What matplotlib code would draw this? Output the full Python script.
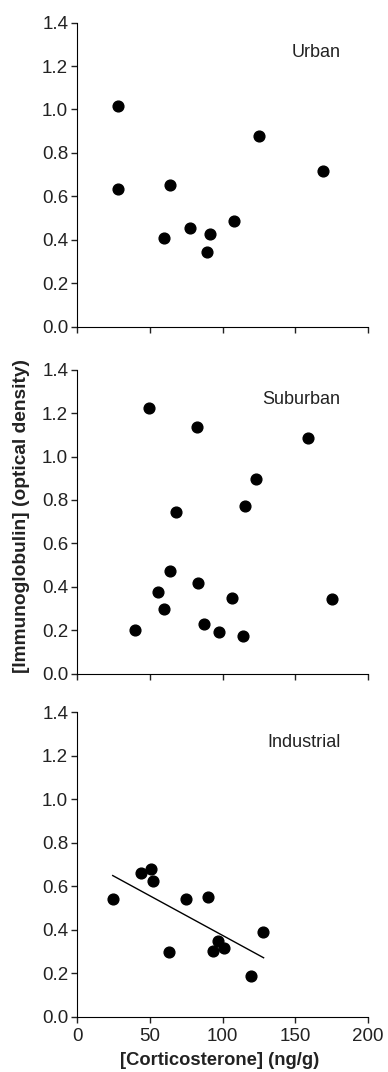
import numpy as np
import matplotlib.pyplot as plt

plt.rcParams["font.family"] = ["Liberation Sans", "DejaVu Sans"]

urban_x = [27.7, 28.2, 63.9, 59.6, 77.4, 91.2, 89.3, 107.7, 124.6, 168.6]
urban_y = [1.016, 0.636, 0.652, 0.408, 0.453, 0.428, 0.347, 0.485, 0.877, 0.715]

suburban_x = [49.5, 82.2, 158.8, 122.8, 115.5, 67.6, 63.9, 83.2, 55.7, 59.8,
              39.9, 106.5, 87.3, 97.4, 113.9, 175.3]
suburban_y = [1.224, 1.136, 1.086, 0.896, 0.772, 0.744, 0.475, 0.420, 0.375, 0.299,
              0.204, 0.351, 0.231, 0.195, 0.173, 0.343]

industrial_x = [24.4, 43.8, 50.5, 52.3, 75.1, 90.2, 62.8, 96.6, 93.4, 101.1, 119.4, 127.6]
industrial_y = [0.543, 0.659, 0.678, 0.623, 0.543, 0.551, 0.296, 0.348, 0.304, 0.314, 0.187, 0.388]

# regression line endpoints (industrial)
fit_x = [24.4, 128.1]
fit_y = [0.649, 0.271]

panels = [("Urban", urban_x, urban_y),
          ("Suburban", suburban_x, suburban_y),
          ("Industrial", industrial_x, industrial_y)]

fig = plt.figure(figsize=(3.88, 10.72), dpi=100)
bottoms = [0.695, 0.3713, 0.0516]

for i, (name, xs, ys) in enumerate(panels):
    ax = fig.add_axes([0.199, bottoms[i], 0.75, 0.284])
    ax.scatter(xs, ys, s=60, color="black", zorder=3)
    if name == "Industrial":
        ax.plot(fit_x, fit_y, color="black", lw=1)
    ax.set_xlim(0, 200)
    ax.set_ylim(0, 1.4)
    ax.set_xticks([0, 50, 100, 150, 200])
    ax.set_yticks(np.arange(0, 1.41, 0.2))
    ax.set_yticklabels([f"{v:.1f}" for v in np.arange(0, 1.41, 0.2)])
    ax.spines["top"].set_visible(False)
    ax.spines["right"].set_visible(False)
    ax.tick_params(labelsize=13.5, length=4.5, width=1, pad=2, colors="#222222")
    ax.tick_params(axis="x", pad=3.5)
    if name != "Industrial":
        ax.tick_params(axis="x", labelbottom=False)
    ax.text(0.904, 0.90, name, transform=ax.transAxes, fontsize=13, ha="right", va="center",
            color="#222222")

fig.text(0.056, 0.519, "[Immunoglobulin] (optical density)", rotation=90,
         fontsize=13.8, fontweight="bold", ha="center", va="center", color="#222222")
fig.text(0.567, 0.0105, "[Corticosterone] (ng/g)", fontsize=13.2, fontweight="bold",
         ha="center", va="center", color="#222222")

fig.savefig("out.png", dpi=100)
